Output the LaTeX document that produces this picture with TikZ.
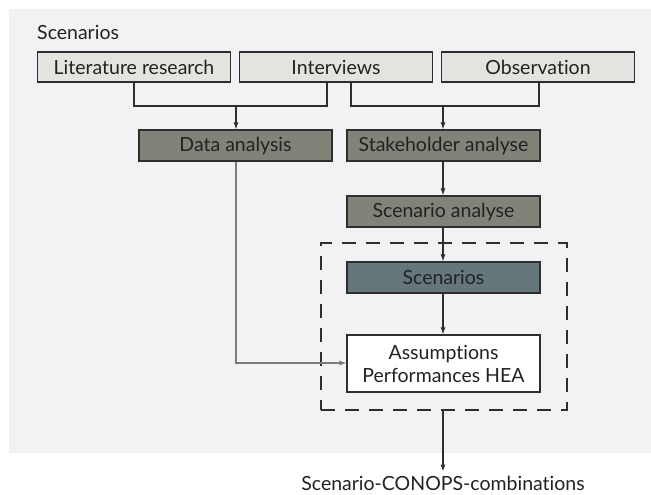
\documentclass[tikz,border=0pt]{standalone}
\usepackage{fontspec}
\setmainfont{Lato}[Ligatures={NoCommon,NoContextual}]
\usetikzlibrary{arrows.meta}
\definecolor{bgc}{HTML}{F2F2F4}
\definecolor{lightbox}{HTML}{E3E3DF}
\definecolor{olivebox}{HTML}{7F8378}
\definecolor{bluebox}{HTML}{66777C}
\definecolor{linec}{HTML}{2E2E2E}
\definecolor{greyline}{HTML}{7A7A7A}
\definecolor{txt}{HTML}{222222}
\tikzset{
  lbl/.style={font=\fontsize{19.5}{23}\selectfont, text=txt},
  box/.style={lbl, draw=linec, line width=1.1pt, rectangle, minimum width=193pt, inner sep=0pt},
  srcbox/.style={box, fill=lightbox, minimum height=30pt},
  anbox/.style={box, fill=olivebox, minimum height=31pt},
  scbox/.style={box, fill=bluebox, minimum height=31pt},
  resbox/.style={box, fill=white, minimum height=57pt, align=center},
  conn/.style={draw=linec, line width=1.2pt},
  arr/.style={conn, -{Latex[length=7pt,width=5pt]}},
  garr/.style={draw=greyline, line width=1.1pt, -{Latex[length=7pt,width=5pt]}},
}
\begin{document}
\begin{tikzpicture}[x=1pt,y=-1pt]
\useasboundingbox (0,0) rectangle (651,495);
\fill[bgc] (9,9) rectangle (651,453);
\node[lbl, anchor=west, inner sep=0pt] (title) at (37,32) {Scenarios};
\node[srcbox] (lit) at (134,67) {Literature research};
\node[srcbox] (int) at (336,67) {\raisebox{-2pt}{Interviews}};
\node[srcbox] (obs) at (538,67) {Observation};
\node[anbox] (data) at (235.5,145.5) {Data analysis};
\node[anbox] (stake) at (443.5,145.5) {Stakeholder analyse};
\node[anbox] (scan) at (443.5,211.5) {Scenario analyse};
\node[scbox] (scen) at (443.5,277.5) {Scenarios};
\node[resbox] (res) at (443.5,363.5) {Assumptions\\Performances HEA};
\node[draw=linec, dash pattern=on 14pt off 10pt, line width=1.1pt, minimum width=246pt, minimum height=167pt, inner sep=0pt] (grp) at (444,326.5) {};
\node[lbl, inner sep=0pt] (out) at (443,483) {Scenario-CONOPS-combinations};
\coordinate (j1) at (236,106);
\coordinate (j2) at (443,106);
\draw[conn] (lit.south -| 134,0) |- (j1) -| (int.south -| 327,0);
\draw[conn] (int.south -| 351,0) |- (j2) -| (obs.south -| 539,0);
\draw[arr] (j1) -- (data.north -| j1);
\draw[arr] (j2) -- (stake.north -| j2);
\draw[arr] (stake.south -| j2) -- (scan.north -| j2);
\draw[arr] (scan.south -| j2) -- (scen.north -| j2);
\draw[arr] (scen.south -| j2) -- (res.north -| j2);
\draw[garr] (data.south -| 236,0) |- (res.west |- 0,363);
\draw[arr] (grp.south -| j2) -- ([yshift=4pt]out.north -| j2);
\end{tikzpicture}
\end{document}
